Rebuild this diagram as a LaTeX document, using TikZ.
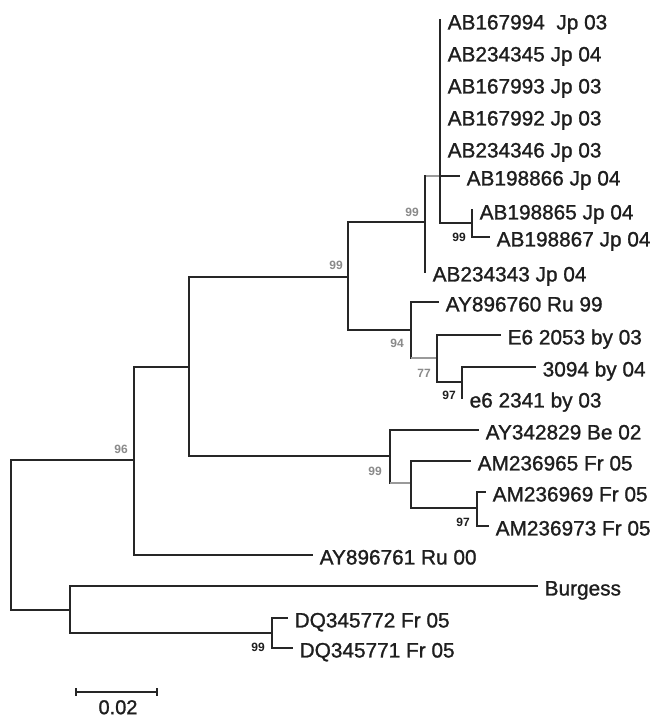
\documentclass[tikz,border=0pt]{standalone}
\usepackage{fontspec}
\setmainfont{Liberation Sans}
\newfontfamily\leaffont[FakeBold=1.2]{Liberation Sans}
\definecolor{linec}{HTML}{262626}
\definecolor{faintc}{HTML}{9A9A9A}
\definecolor{txtc}{HTML}{1E1E1E}
\definecolor{supgray}{HTML}{8A8A8A}
\begin{document}
\begin{tikzpicture}[x=1pt,y=-1pt,
  br/.style={line width=1.7pt, draw=linec, line cap=rect},
  faint/.style={line width=1.7pt, draw=faintc},
  leaf/.style={anchor=west, inner sep=0pt, xshift=7.5pt, yshift=-2pt, text=txtc,
    font=\leaffont\fontsize{20.8}{24}\selectfont, text height=14.9pt, text depth=0pt},
  sup/.style={inner sep=0pt, text=txtc, font=\fontsize{12}{14}\selectfont\bfseries},
  supg/.style={sup, text=supgray}]
\useasboundingbox (0,0) rectangle (652,720);

% internal nodes
\coordinate (R) at (11,535);
\coordinate (A) at (134,460);
\coordinate (B) at (70,610);
\coordinate (C) at (189,367);
\coordinate (G) at (348,277);
\coordinate (H) at (425,222);
\coordinate (J) at (440,176);
\coordinate (K) at (472,223);
\coordinate (I) at (411,330);
\coordinate (L) at (437,358);
\coordinate (M) at (462,382);
\coordinate (D) at (390,456);
\coordinate (E) at (411,483);
\coordinate (F) at (477,508);
\coordinate (N) at (272,633);

% leaf tips
\coordinate (t1) at (440,20);
\coordinate (t2) at (440,52);
\coordinate (t3) at (440,84);
\coordinate (t4) at (440,116);
\coordinate (t5) at (440,148);
\coordinate (t6) at (459,176);
\coordinate (t7) at (472,210);
\coordinate (t8) at (489,237);
\coordinate (t9) at (425,272);
\coordinate (t10) at (438,302);
\coordinate (t11) at (500,335);
\coordinate (t12) at (535,367);
\coordinate (t13) at (462,398);
\coordinate (t14) at (478,430);
\coordinate (t15) at (470,461);
\coordinate (t16) at (485,492);
\coordinate (t17) at (488,526);
\coordinate (t18) at (312,555);
\coordinate (t19) at (537,586);
\coordinate (t20) at (287,618);
\coordinate (t21) at (292,648);

% branches
\draw[br] (A) -| (R) |- (B);
\draw[br] (C) -| (A) |- (t18);
\draw[br] (t19) -| (B) |- (N);
\draw[br] (t20) -| (N) |- (t21);
\draw[br] (G) -| (C) |- (D);
\draw[br] (H) -| (G) |- (I);
\draw[faint] (J) -- (H |- J);
\draw[br] (H |- J) -- (t9);
\draw[br] (t1) |- (K);
\draw[br] (J) -- (t6);
\draw[br] (t7) |- (t8);
\draw[br] (t10) -| (I) -- (I |- L);
\draw[faint] (I |- L) -- (L);
\draw[br] (t11) -| (L) |- (M);
\draw[br] (t12) -| (M) -- (t13);
\draw[br] (t14) -| (D) -- (D |- E);
\draw[faint] (D |- E) -- (E);
\draw[br] (t15) -| (E) |- (F);
\draw[br] (t16) -| (F) |- (t17);

% leaf labels
\node[leaf] (n1) at (t1) {AB167994\ \ Jp 03};
\node[leaf] (n2) at (t2) {AB234345 Jp 04};
\node[leaf] (n3) at (t3) {AB167993 Jp 03};
\node[leaf] (n4) at (t4) {AB167992 Jp 03};
\node[leaf] (n5) at (t5) {AB234346 Jp 03};
\node[leaf] (n6) at (t6) {AB198866 Jp 04};
\node[leaf] (n7) at (t7) {AB198865 Jp 04};
\node[leaf] (n8) at (t8) {AB198867 Jp 04};
\node[leaf] (n9) at (t9) {AB234343 Jp 04};
\node[leaf] (n10) at (t10) {AY896760 Ru 99};
\node[leaf] (n11) at (t11) {E6 2053 by 03};
\node[leaf] (n12) at (t12) {3094 by 04};
\node[leaf] (n13) at (t13) {e6 2341 by 03};
\node[leaf] (n14) at (t14) {AY342829 Be 02};
\node[leaf] (n15) at (t15) {AM236965 Fr 05};
\node[leaf] (n16) at (t16) {AM236969 Fr 05};
\node[leaf] (n17) at (t17) {AM236973 Fr 05};
\node[leaf] (n18) at (t18) {AY896761 Ru 00};
\node[leaf] (n19) at (t19) {Burgess};
\node[leaf] (n20) at (t20) {DQ345772 Fr 05};
\node[leaf] (n21) at (t21) {DQ345771 Fr 05};

% support values
\node[supg] (b1) at (121,449) {96};
\node[supg] (b2) at (336,265) {99};
\node[supg] (b3) at (412,212) {99};
\node[sup]  (b4) at (459,237) {99};
\node[supg] (b5) at (397,343) {94};
\node[supg] (b6) at (424,373) {77};
\node[sup]  (b7) at (449,395) {97};
\node[supg] (b8) at (375,471) {99};
\node[sup]  (b9) at (463,522) {97};
\node[sup]  (b10) at (258,647) {99};

% scale bar
\coordinate (s1) at (76,692);
\coordinate (s2) at (157,692);
\draw[br, line width=1.4pt] (s1) -- (s2);
\draw[br, line width=1.2pt] ([yshift=3.5pt]s1) -- ([yshift=-3.5pt]s1);
\draw[br, line width=1.2pt] ([yshift=3.5pt]s2) -- ([yshift=-3.5pt]s2);
\node[inner sep=0pt, text=txtc, font=\leaffont\fontsize{20}{24}\selectfont, text height=14.3pt, text depth=0pt] (sl) at (118,707) {0.02};
\end{tikzpicture}
\end{document}
